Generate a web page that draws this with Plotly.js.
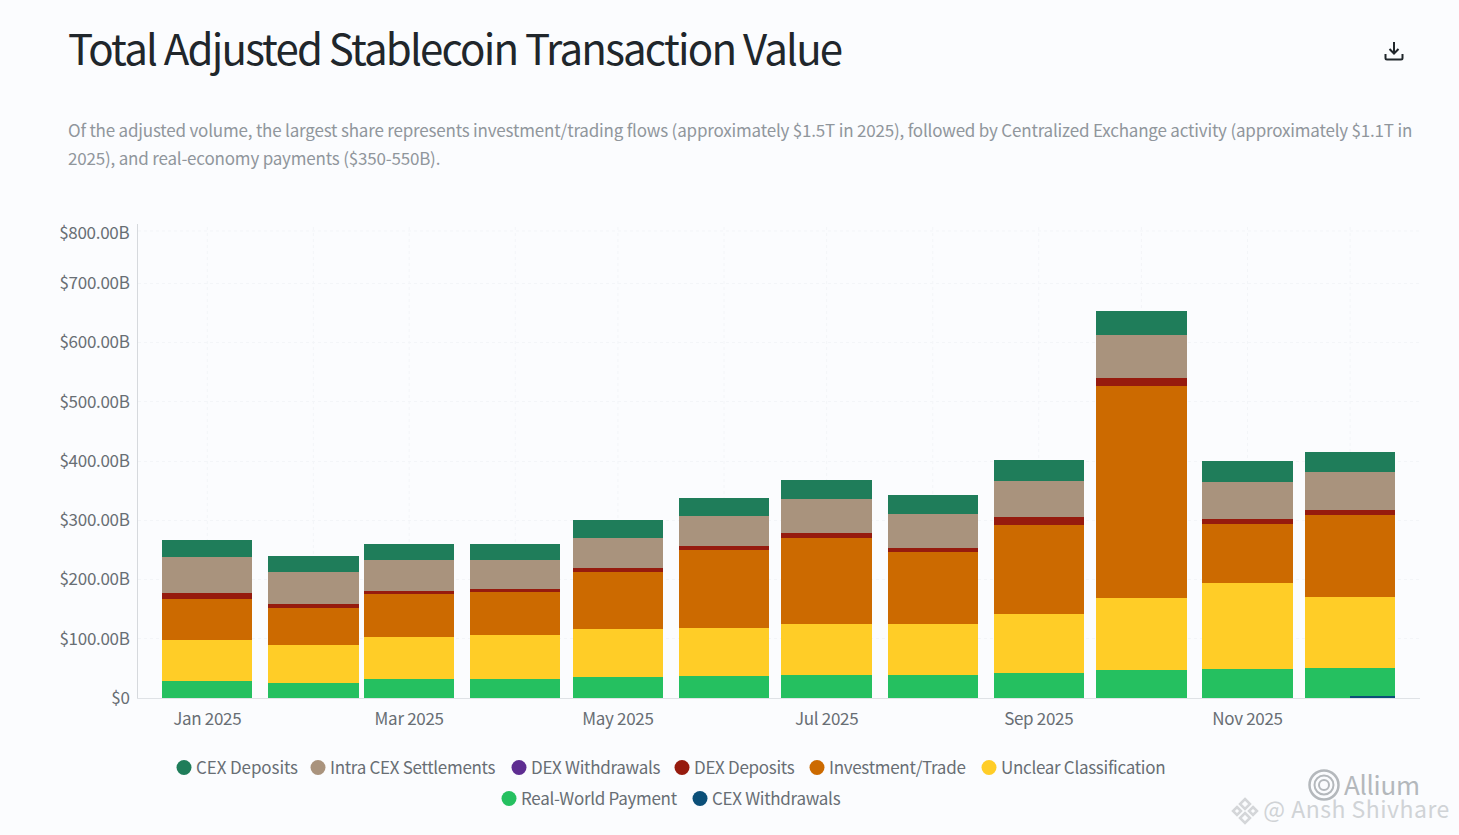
<!DOCTYPE html>
<html>
<head>
<meta charset="utf-8">
<script src="https://cdn.plot.ly/plotly-3.0.1.min.js"></script>
<style>
  html, body { margin: 0; padding: 0; background: #fbfcfe; }
  #chart { width: 1459px; height: 835px; }
  #chart text { letter-spacing: -0.3px; }
  #chart .gtitle { letter-spacing: -1.8px !important; }
  #chart .legendtext { letter-spacing: -0.1px; }
  #chart .annotation[data-index="1"] text, #chart .annotation[data-index="2"] text { letter-spacing: -0.19px; }
  #chart .annotation[data-index="4"] text { letter-spacing: 0.5px; }
  .overlay { position: absolute; }
</style>
</head>
<body>
<div id="chart"></div>
<svg class="overlay" style="left:1383px;top:40px" width="22" height="22" viewBox="0 0 22 22" fill="none" stroke="#20262b" stroke-width="2">
  <path d="M11 2v11M6.5 9l4.5 4.5L15.5 9M2.5 14v4a1.5 1.5 0 0 0 1.5 1.5h14a1.5 1.5 0 0 0 1.5-1.5v-4"/>
</svg>
<svg class="overlay" style="left:1307px;top:768px" width="34" height="34" viewBox="0 0 34 34" fill="none" stroke="#b4b8bc">
  <circle cx="17" cy="17" r="14.5" stroke-width="2.5"/>
  <circle cx="17" cy="17" r="9.5" stroke-width="2"/>
  <circle cx="17" cy="17" r="5" stroke-width="2"/>
</svg>
<svg class="overlay" style="left:1230px;top:796px" width="30" height="30" viewBox="0 0 30 30" fill="none" stroke="#d4d6d9" stroke-width="2.5">
  <path d="M15 3l5 5-5 5-5-5zM7 11l4 4-4 4-4-4zM23 11l4 4-4 4-4-4zM15 17l5 5-5 5-5-5z"/>
</svg>
<script>
const months = ["2025-01-01", "2025-02-01", "2025-03-01", "2025-04-01", "2025-05-01", "2025-06-01",
  "2025-07-01", "2025-08-01", "2025-09-01", "2025-10-01", "2025-11-01", "2025-12-01"];

// $B per month
// withdrawals only show as a hairline at the foot of the December bar
const cexWithdrawals = [0, 0, 0, 0, 0, 0, 0, 0, 0, 0, 0, 2];
const realWorldPayment = [29, 26, 31.5, 32, 35, 37, 39, 39, 42, 48, 49, 50.5];
const unclearClassification = [69, 63.5, 71, 73.6, 81, 81, 86, 86, 99, 120, 145, 120];
const investmentTrade = [69, 63, 73, 74, 96, 131, 145, 121, 151.5, 358, 99, 139];
const dexDeposits = [10, 6.7, 5, 5, 7, 8, 8, 8, 13, 14.5, 9, 8.4];
const dexWithdrawals = [0, 0, 0, 0, 0, 0, 0, 0, 0, 0, 0, 0];
const intraCexSettlements = [61, 54, 52, 48, 51, 51, 58, 56, 61, 72, 62, 63];
const cexDeposits = [29, 27, 27.5, 28, 30, 29.5, 32, 32, 35, 41, 36, 35];

const yTicks = [0, 100, 200, 300, 400, 500, 600, 700];
const yTickLabels = ["$0", "$100.00B", "$200.00B", "$300.00B", "$400.00B", "$500.00B", "$600.00B", "$700.00B"];

const font = '"Noto Sans CJK SC", "Noto Sans", sans-serif';
const textColor = "#686e74";
const gridColor = "#f3f5f8";
const barWidth = 26.4 * 24 * 3600 * 1000;

// bottom of the stack first
const stack = [
  { name: "CEX Withdrawals", y: cexWithdrawals, color: "#0b4f78" },
  { name: "Real-World Payment", y: realWorldPayment, color: "#25c060" },
  { name: "Unclear Classification", y: unclearClassification, color: "#ffcd27" },
  { name: "Investment/Trade", y: investmentTrade, color: "#cc6a00" },
  { name: "DEX Deposits", y: dexDeposits, color: "#961b0e" },
  { name: "DEX Withdrawals", y: dexWithdrawals, color: "#5e2d91" },
  { name: "Intra CEX Settlements", y: intraCexSettlements, color: "#a9937d" },
  { name: "CEX Deposits", y: cexDeposits, color: "#1f7d5a" },
];

const bars = stack.map((s) => {
  const trace = {
    type: "bar",
    name: s.name,
    x: months,
    y: s.y,
    width: barWidth,
    marker: { color: s.color, line: { width: 0 } },
    showlegend: false,
    hovertemplate: "%{y:$.2f}B<extra>" + s.name + "</extra>",
  };
  // on its own overlaid axis, so the hairline sits over the green instead of lifting the stack
  if (s.name === "CEX Withdrawals") {
    trace.yaxis = "y2";
    trace.width = barWidth / 2;
    trace.offset = 0;
  }
  return trace;
});

// one small legend per entry: plotly's own row spacing is too wide and the second row is centred
const legendEntries = [
  { name: "CEX Deposits", textX: 196, rowY: 768 },
  { name: "Intra CEX Settlements", textX: 330, rowY: 768 },
  { name: "DEX Withdrawals", textX: 531, rowY: 768 },
  { name: "DEX Deposits", textX: 694, rowY: 768 },
  { name: "Investment/Trade", textX: 829, rowY: 768 },
  { name: "Unclear Classification", textX: 1001, rowY: 768 },
  { name: "Real-World Payment", textX: 521, rowY: 799 },
  { name: "CEX Withdrawals", textX: 712, rowY: 799 },
];

const legendDots = legendEntries.map((entry, i) => ({
  type: "scatter",
  mode: "markers",
  name: entry.name,
  x: [null],
  y: [null],
  legend: i === 0 ? "legend" : "legend" + (i + 1),
  marker: { color: stack.find((s) => s.name === entry.name).color, size: 15, symbol: "circle" },
  hoverinfo: "skip",
}));

const layout = {
  width: 1459,
  height: 835,
  margin: { l: 138, r: 39, t: 224, b: 137, pad: 0 },
  paper_bgcolor: "#fbfcfe",
  plot_bgcolor: "#fbfcfe",
  font: { family: font, color: textColor, size: 17 },
  barmode: "stack",
  title: {
    text: "Total Adjusted Stablecoin Transaction Value",
    font: { family: font, size: 42, color: "#20262b" },
    x: 68 / 1459,
    xanchor: "left",
    y: 1 - 50 / 835,
    yanchor: "middle",
  },
  xaxis: {
    type: "date",
    range: ["2024-12-11 18:00", "2025-12-21 10:00"],
    tick0: "2025-01-01",
    dtick: "M2",
    tickformat: "%b %Y",
    ticklabelmode: "instant",
    ticklabelstandoff: 6,
    tickfont: { family: font, size: 17, color: textColor },
    ticks: "",
    showline: true,
    linecolor: "#dfe2e6",
    linewidth: 1,
    showgrid: false,
    zeroline: false,
    automargin: false,
  },
  yaxis: {
    range: [0, 800],
    tickvals: yTicks,
    ticktext: yTickLabels,
    ticklabelstandoff: 4,
    tickfont: { family: font, size: 17, color: textColor },
    ticks: "",
    ticklen: 0,
    showline: true,
    linecolor: "#d6d9dd",
    linewidth: 1,
    gridcolor: gridColor,
    gridwidth: 1,
    griddash: "dot",
    zeroline: false,
    automargin: false,
  },
  yaxis2: { overlaying: "y", range: [0, 800], visible: false },
  annotations: [
    {
      // top tick label sits inside the plot height, so it goes here rather than on the axis
      text: "$800.00B", xref: "paper", yref: "paper", x: 0, y: 1 - 7 / 474,
      xanchor: "right", yanchor: "middle", xshift: -5, showarrow: false,
      font: { family: font, size: 17, color: textColor },
    },
    {
      text: "Of the adjusted volume, the largest share represents investment/trading flows (approximately $1.5T in 2025), followed by Centralized Exchange activity (approximately $1.1T in",
      xref: "paper", yref: "paper", x: (66 - 138) / 1282, y: 1 + (224 - 129) / 474,
      xanchor: "left", yanchor: "middle", align: "left", showarrow: false,
      font: { family: font, size: 17, color: "#90969c" },
    },
    {
      text: "2025), and real-economy payments ($350-550B).",
      xref: "paper", yref: "paper", x: (66 - 138) / 1282, y: 1 + (224 - 157) / 474,
      xanchor: "left", yanchor: "middle", align: "left", showarrow: false,
      font: { family: font, size: 17, color: "#90969c" },
    },
    {
      text: "Allium", xref: "paper", yref: "paper", x: (1341 - 138) / 1282, y: 1 - (783 - 224) / 474,
      xanchor: "left", yanchor: "middle", showarrow: false,
      font: { family: font, size: 26, color: "#b4b8bc" },
    },
    {
      text: "@ Ansh Shivhare", xref: "paper", yref: "paper", x: (1265 - 138) / 1282, y: 1 - (808 - 224) / 474,
      xanchor: "left", yanchor: "middle", showarrow: false,
      font: { family: font, size: 23, color: "#d0d3d6" },
    },
  ],
};

legendEntries.forEach((entry, i) => {
  layout[i === 0 ? "legend" : "legend" + (i + 1)] = {
    orientation: "h",
    xref: "container",
    yref: "container",
    x: (entry.textX - 40) / 1459,
    y: 1 - entry.rowY / 835,
    xanchor: "left",
    yanchor: "middle",
    bgcolor: "rgba(0,0,0,0)",
    font: { family: font, size: 17, color: textColor },
    itemsizing: "trace",
    itemwidth: 30,
  };
});

// faint monthly guides through each bar centre, plus the top gridline just under the plot edge
layout.shapes = months.map((m) => ({
  type: "line", xref: "x", yref: "paper", x0: m, x1: m, y0: 0, y1: 1, layer: "below",
  line: { color: gridColor, width: 1, dash: "dot" },
}));
layout.shapes.push({
  type: "line", xref: "paper", yref: "paper", x0: 0, x1: 1, y0: 1 - 7 / 474, y1: 1 - 7 / 474, layer: "below",
  line: { color: gridColor, width: 1, dash: "dot" },
});

Plotly.newPlot("chart", [...bars, ...legendDots], layout, { displayModeBar: false, responsive: false }).then((gd) => {
  // pull the legend dots closer to their labels
  gd.querySelectorAll(".legendsymbols").forEach((el) => el.setAttribute("transform", "translate(8,0)"));
});
</script>
</body>
</html>
